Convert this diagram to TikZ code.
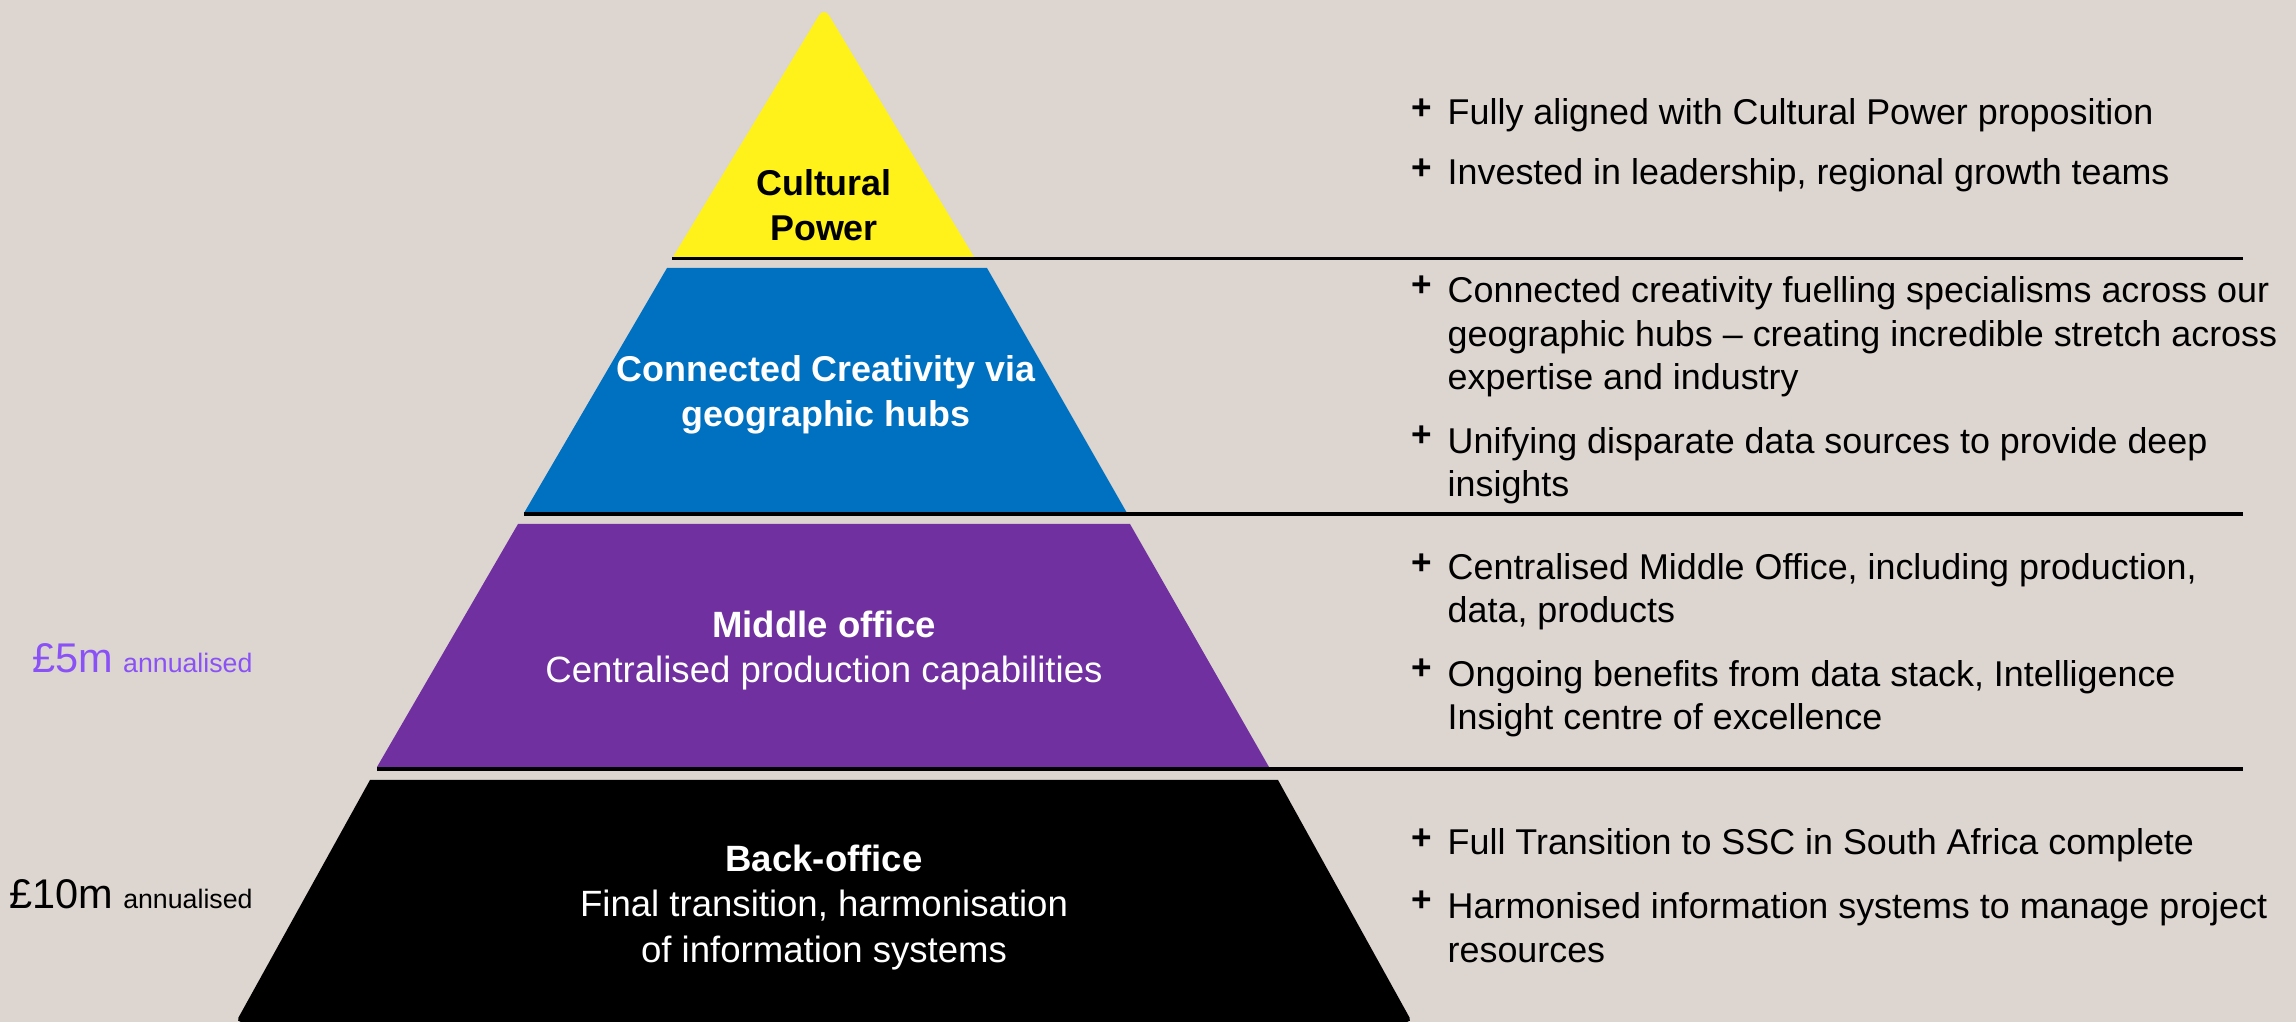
\documentclass[tikz,border=0pt]{standalone}
\usepackage{fontspec}
\setmainfont{Liberation Sans}
\definecolor{paper}{HTML}{DDD6D0}
\definecolor{culture}{HTML}{FFF21A}
\definecolor{hubs}{HTML}{0070C0}
\definecolor{middle}{HTML}{7030A0}
\definecolor{saving}{HTML}{8A52F6}
\begin{document}
\begin{tikzpicture}[x=0.01cm, y=-0.01cm,
  tier/.style={align=center, anchor=base, inner sep=0pt, font=\fontsize{10.4}{12.8}\selectfont},
  tierhead/.style={tier, font=\fontsize{10.2}{12.8}\selectfont\bfseries},
  point/.style={align=left, anchor=base west, inner sep=0pt, font=\fontsize{10.2}{12.4}\selectfont},
  plus/.style={inner sep=0pt, font=\fontsize{10}{10}\selectfont\bfseries},
  amount/.style={anchor=base west, inner sep=0pt},
  rule/.style={line width=1.1pt}]
\useasboundingbox (0,0) rectangle (2296,1022);
\fill[paper] (0,0) rectangle (2296,1022);

% the four tiers
\fill[culture] (673,257) [rounded corners=0.1cm] -- (824,7) [sharp corners] -- (974,257) -- cycle;
\fill[hubs] (667,268) -- (987,268) -- (1127,513) -- (524,513) -- cycle;
\fill[middle] (518,524) -- (1130,524) -- (1269,767) -- (377,767) -- cycle;
\fill[black] (370,780) -- (1278,780) [rounded corners=0.05cm] -- (1412,1022) -- (236,1022) [sharp corners] -- cycle;

% rules under each tier
\draw[rule] (672,258.5) -- (2243,258.5);
\draw[rule] (524,514) -- (2243,514);
\draw[rule] (377,769) -- (2243,769);

% tier labels, placed on the baseline of their last line
\node[tierhead] (cult) at (824,241) {Cultural\\Power};
\node[tierhead, text=white] (conn) at (826,427) {Connected Creativity via\\geographic hubs};
\node[tier, text=white] (mid) at (824,683) {\textbf{Middle office}\\Centralised production capabilities};
\node[tier, text=white] (back) at (824,962) {\textbf{Back-office}\\Final transition, harmonisation\\of information systems};

% savings
\node[amount, text=saving] (five) at (32,673) {{\fontsize{11.8}{13}\selectfont £5m} {\fontsize{7.6}{9}\selectfont annualised}};
\node[amount] (ten) at (9,909) {{\fontsize{11.8}{13}\selectfont £10m} {\fontsize{7.6}{9}\selectfont annualised}};

% points on the right
\node[point] (p1) at (1447,125) {Fully aligned with Cultural Power proposition};
\node[point] (p2) at (1447,185) {Invested in leadership, regional growth teams};
\node[point] (p3) at (1447,390) {Connected creativity fuelling specialisms across our\\geographic hubs – creating incredible stretch across\\expertise and industry};
\node[point] (p4) at (1447,497) {Unifying disparate data sources to provide deep\\insights};
\node[point] (p5) at (1447,623) {Centralised Middle Office, including production,\\data, products};
\node[point] (p6) at (1447,730) {Ongoing benefits from data stack, Intelligence\\Insight centre of excellence};
\node[point] (p7) at (1447,855) {Full Transition to SSC in South Africa complete};
\node[point] (p8) at (1447,962) {Harmonised information systems to manage project\\resources};
% plus marks sit on the first line of each point
\foreach \y in {125,185,302,452,580,685,855,917}
  \node[plus] (plus-\y) at (1422,\y-16) {+};
\end{tikzpicture}
\end{document}
